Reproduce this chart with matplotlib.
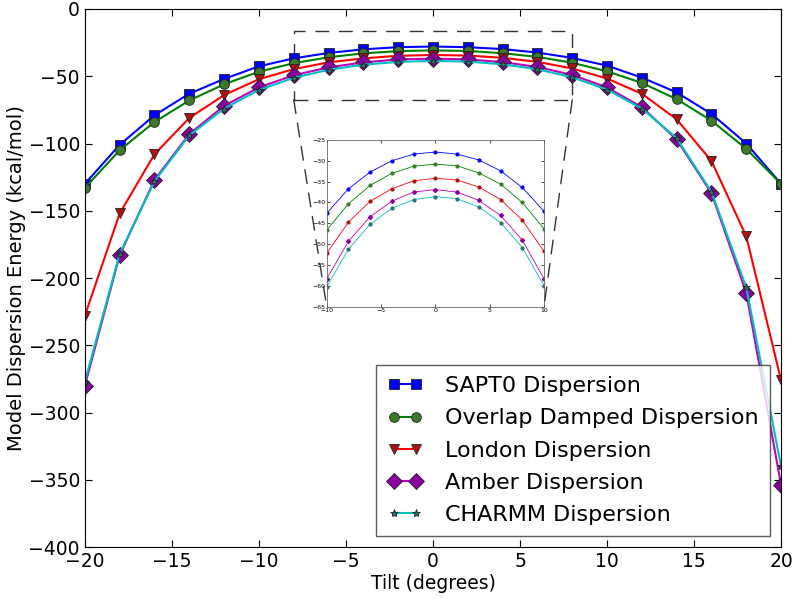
import numpy as np
import matplotlib
matplotlib.use('Agg')
import matplotlib.pyplot as plt
from matplotlib.patches import Rectangle, ConnectionPatch

tilt = [-20, -18, -16, -14, -12, -10, -8, -6, -4, -2, 0, 2, 4, 6, 8, 10, 12, 14, 16, 18, 20]

sapt0 = [-130, -101, -79, -63, -52, -42.6, -36.7, -32.7, -30.0, -28.4, -27.9,
         -28.4, -29.8, -32.4, -36.4, -42.1, -51, -62, -78, -100, -130]
overlap = [-133, -105, -84, -68, -56, -46.6, -40.3, -35.9, -33.0, -31.3, -30.8,
           -31.2, -32.9, -35.6, -40.0, -46.3, -55, -67, -83, -104, -130]
london = [-228, -152, -108, -81, -64, -52.2, -44.7, -39.7, -36.7, -34.8, -34.2,
          -34.6, -36.3, -39.3, -44.2, -51.7, -63, -82, -113, -169, -276]
amber = [-280, -183, -127, -93, -72, -58.3, -49.3, -43.4, -39.7, -37.5, -36.9,
         -37.5, -39.5, -43.1, -49.0, -58.3, -73, -97, -137, -211, -354]
charmm = [-277, -182, -128, -94, -74, -60.2, -51.2, -45.2, -41.4, -39.3, -38.6,
          -39.1, -41.1, -44.8, -50.8, -59.9, -74, -96, -136, -207, -340]

labels = ['SAPT0 Dispersion', 'Overlap Damped Dispersion', 'London Dispersion',
          'Amber Dispersion', 'CHARMM Dispersion']

# zoomed window shown in the inset
zoom_x = (-8, 8)
zoom_y = (-67.5, -16.5)

series = [sapt0, overlap, london, amber, charmm]
colors = ['#0000ff', '#008000', '#ff0000', '#bf00bf', '#00bfbf']
mfc = ['#0000ff', '#3a7a2a', '#b01010', '#8a00a0', '#2a7070']
markers = ['s', 'o', 'v', 'D', '*']
msizes = [7, 7, 7, 8, 6]

plt.rcParams['xtick.direction'] = 'in'
plt.rcParams['ytick.direction'] = 'in'

fig = plt.figure(figsize=(7.93, 5.98), dpi=100)
ax = fig.add_axes([0.107, 0.085, 0.878, 0.9])

for y, c, fc, m, s, lab in zip(series, colors, mfc, markers, msizes, labels):
    ax.plot(tilt, y, '-', color=c, lw=1.5, marker=m, ms=s, mfc=fc,
            mec='#222222', mew=0.6, label=lab)

ax.set_xlim(-20, 20)
ax.set_ylim(-400, 0)
ax.set_xticks(np.arange(-20, 21, 5))
ax.set_yticks(np.arange(-400, 1, 50))
ax.tick_params(top=True, right=True, labelsize=13.5, length=5)
ax.set_xlabel('Tilt (degrees)', fontsize=13.5, labelpad=2)
ax.set_ylabel('Model Dispersion Energy (kcal/mol)', fontsize=14, labelpad=2)

leg = ax.legend(loc='lower right', fontsize=16, numpoints=2, handlelength=1.6,
                handletextpad=1.0, borderpad=0.5, labelspacing=0.55,
                fancybox=False, borderaxespad=0.5)
leg.get_frame().set_edgecolor('#333333')
leg.get_frame().set_linewidth(1.0)

# inset
axin = fig.add_axes([0.412, 0.487, 0.274, 0.279])
for y, c, fc, m in zip(series, colors, mfc, markers):
    axin.plot(tilt, y, '-', color=c, lw=0.6, marker='o' if m != 'D' else 'D',
              ms=2, mfc=fc, mec=fc)
axin.set_xlim(-10, 10)
axin.set_ylim(-65, -25)
axin.set_xticks(np.arange(-10, 11, 5))
axin.set_yticks(np.arange(-65, -24, 5))
axin.tick_params(top=True, right=True, labelsize=4.5, length=2, width=0.5, pad=1)
for sp in axin.spines.values():
    sp.set_linewidth(0.6)
    sp.set_color('#666666')

dash = (0, (10, 7))
rect = Rectangle((zoom_x[0], zoom_y[0]), zoom_x[1] - zoom_x[0], zoom_y[1] - zoom_y[0],
                 fill=False, ls=dash, lw=1, ec='#333333')
ax.add_patch(rect)
for xc, xa in [(zoom_x[0], 0), (zoom_x[1], 1)]:
    cp = ConnectionPatch(xyA=(xc, zoom_y[0]), coordsA=ax.transData,
                         xyB=(xa, 0), coordsB=axin.transAxes,
                         ls=dash, lw=1, color='#333333')
    fig.add_artist(cp)

fig.savefig('out.png', dpi=100)
